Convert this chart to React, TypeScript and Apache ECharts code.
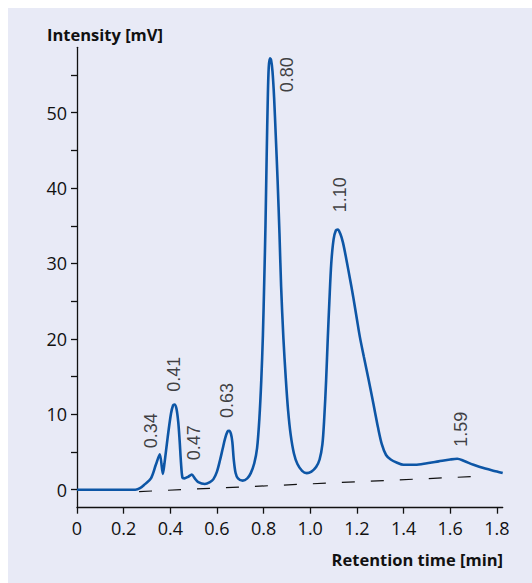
import React, { useEffect, useRef } from "react";
import * as echarts from "echarts";

// Chromatogram trace (retention time [min], intensity [mV])
const retentionTime = [
  0.0, 0.25, 0.27, 0.29, 0.317, 0.338, 0.355, 0.368, 0.375, 0.389, 0.403, 0.412, 0.418,
  0.426, 0.434, 0.44, 0.446, 0.452, 0.46, 0.476, 0.492, 0.505, 0.52, 0.548, 0.57, 0.585,
  0.6, 0.613, 0.625, 0.635, 0.645, 0.652, 0.66, 0.666, 0.672, 0.68, 0.69, 0.71, 0.73,
  0.745, 0.76, 0.772, 0.782, 0.79, 0.797, 0.803, 0.808, 0.813, 0.818, 0.822, 0.827,
  0.832, 0.838, 0.845, 0.852, 0.86, 0.868, 0.875, 0.885, 0.895, 0.905, 0.916, 0.93,
  0.945, 0.965, 0.985, 1.005, 1.025, 1.04, 1.052, 1.06, 1.068, 1.075, 1.082, 1.09, 1.1,
  1.11, 1.118, 1.128, 1.14, 1.155, 1.17, 1.184, 1.2, 1.213, 1.23, 1.25, 1.265, 1.278,
  1.29, 1.307, 1.325, 1.345, 1.37, 1.4, 1.45, 1.5, 1.55, 1.6, 1.63, 1.66, 1.7, 1.75,
  1.8, 1.825,
];
const intensity = [
  0, 0, 0.2, 0.7, 1.5, 3.3, 4.7, 2.1, 3.5, 7.0, 10.1, 11.2, 11.3,
  10.8, 9.0, 6.5, 3.5, 1.6, 1.5, 1.7, 2.0, 1.5, 1.0, 0.75, 1.0, 1.4,
  2.4, 3.9, 5.5, 6.8, 7.7, 7.8, 7.4, 6.3, 4.0, 2.2, 1.5, 1.2, 1.5,
  2.2, 3.5, 5.5, 9.5, 14.5, 20.5, 28, 35, 44, 52, 56, 57.2,
  57.0, 55.5, 52, 47, 41, 34, 27, 20, 14.8, 10.5, 7.3, 4.8,
  3.4, 2.5, 2.2, 2.4, 3.0, 4.0, 6.0, 9.5, 14.5, 20, 25, 30, 33.2,
  34.4, 34.5, 34, 32.8, 30.5, 28.0, 25.6, 22.6, 20.2, 17.6, 14.6, 12.3, 10.2,
  8.3, 6.0, 4.6, 4.0, 3.6, 3.3, 3.3, 3.5, 3.75, 4.0, 4.1, 3.8, 3.3, 2.8,
  2.4, 2.2,
];

// Dashed baseline (start and end)
const baselineTime = [0.266, 1.74];
const baselineIntensity = [-0.25, 1.8];

// Peak annotations: text and anchor (data coords of the label's start)
const peakLabels = ["0.34", "0.41", "0.47", "0.63", "0.80", "1.10", "1.59"];
const peakLabelTime = [0.317, 0.416, 0.503, 0.642, 0.9, 1.128, 1.648];
const peakLabelIntensity = [5.5, 13.0, 3.9, 9.5, 52.7, 36.8, 5.7];

// Axis ticks / labels
const xTickValues = [0, 0.2, 0.4, 0.6, 0.8, 1.0, 1.2, 1.4, 1.6, 1.8];
const yTickValues = [0, 5, 10, 15, 20, 25, 30, 35, 40, 45, 50, 55];
const yLabelValues = [0, 10, 20, 30, 40, 50];

export default function App() {
  const ref = useRef<HTMLDivElement>(null);

  useEffect(() => {
    if (!ref.current) return;
    const chart = echarts.init(ref.current, undefined, { renderer: "svg" });
    const tickFont = "'Open Sans', 'Noto Sans', sans-serif";
    const option: any = {
      animation: false,
      backgroundColor: "#e8eaf6",
      grid: { left: 69, right: 29.3, top: 39.3, bottom: 75.3, containLabel: false },
      xAxis: {
        type: "value",
        min: 0,
        max: 1.825,
        splitLine: { show: false },
        axisLine: { onZero: false, lineStyle: { color: "#111", width: 1.3 } },
        axisTick: {
          show: true,
          length: 6,
          customValues: xTickValues,
          lineStyle: { color: "#111", width: 1.3 },
        },
        axisLabel: {
          customValues: xTickValues,
          margin: 11,
          color: "#111",
          fontFamily: tickFont,
          fontSize: 18,
          formatter: (v: number) => (v === 0 ? "0" : v.toFixed(1)),
        },
      },
      yAxis: {
        type: "value",
        min: -2.39,
        max: 58.67,
        splitLine: { show: false },
        axisLine: { show: true, onZero: false, lineStyle: { color: "#111", width: 1.3 } },
        axisTick: {
          show: true,
          length: 6,
          customValues: yTickValues,
          lineStyle: { color: "#111", width: 1.3 },
        },
        axisLabel: {
          customValues: yLabelValues,
          margin: 10,
          color: "#111",
          fontFamily: tickFont,
          fontSize: 18,
        },
      },
      graphic: [
        {
          type: "text",
          left: 39,
          top: 18,
          style: {
            text: "Intensity [mV]",
            fill: "#111",
            font: "bold 16.5px 'Open Sans', sans-serif",
          },
        },
        {
          type: "text",
          right: 29,
          top: 543,
          style: {
            text: "Retention time [min]",
            fill: "#111",
            font: "bold 16.5px 'Open Sans', sans-serif",
          },
        },
      ],
      series: [
        {
          type: "line",
          data: retentionTime.map((t, i) => [t, intensity[i]]),
          showSymbol: false,
          smooth: 0.3,
          lineStyle: { color: "#0d56a6", width: 2.6 },
          z: 3,
        },
        {
          type: "line",
          data: baselineTime.map((t, i) => [t, baselineIntensity[i]]),
          showSymbol: false,
          lineStyle: { color: "#111", width: 1.2, type: [13, 16] },
          z: 2,
        },
        {
          type: "scatter",
          symbolSize: 0,
          data: peakLabels.map((name, i) => ({
            name,
            value: [peakLabelTime[i], peakLabelIntensity[i]],
          })),
          label: {
            show: true,
            position: [0, 0],
            rotate: 90,
            align: "left",
            verticalAlign: "middle",
            formatter: (p: any) => p.name,
            color: "#111",
            fontFamily: "'Liberation Sans', Arial, sans-serif",
            fontSize: 18,
          },
          silent: true,
          z: 4,
        },
      ],
    };
    chart.setOption(option);
    return () => chart.dispose();
  }, []);

  return (
    <div
      ref={ref}
      style={{ position: "fixed", left: 8, top: 8, width: 524, height: 575 }}
    />
  );
}
